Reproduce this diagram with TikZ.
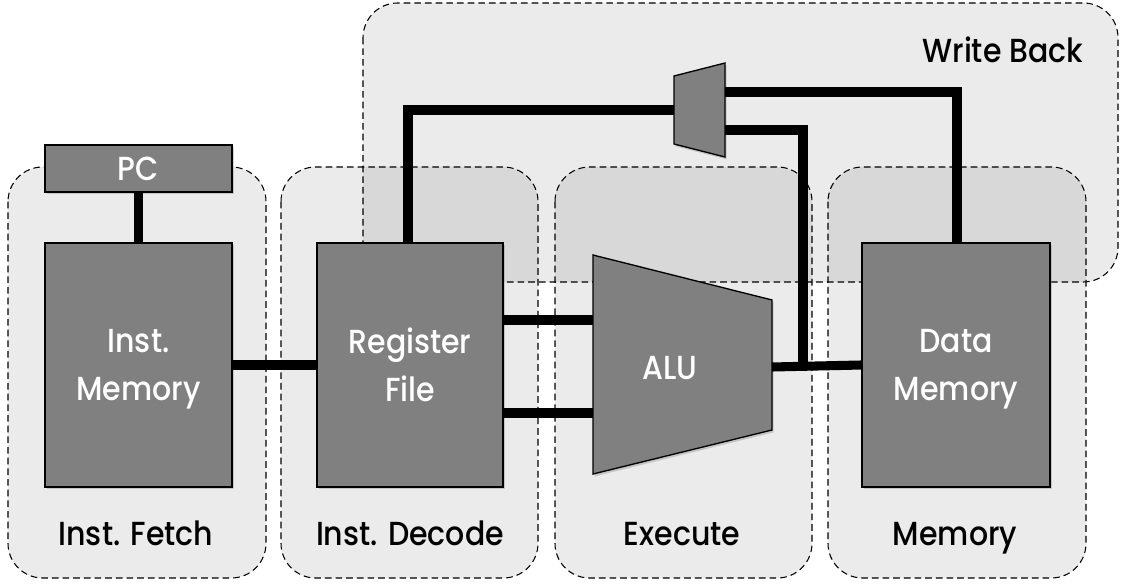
\documentclass[tikz,border=0pt]{standalone}
\usepackage{fontspec}
\setmainfont{Poppins}[UprightFont={* Medium}, FakeStretch=0.9]
\usetikzlibrary{shadows}
\definecolor{blockgray}{HTML}{808080}
\begin{document}
\begin{tikzpicture}[x=0.75pt,y=-0.75pt,
  stage/.style={draw=black, line width=0.8pt, dash pattern=on 5pt off 3pt, fill=black, fill opacity=0.08, draw opacity=1, rounded corners=26pt},
  stagelabel/.style={text=black, font=\fontsize{25}{36}\selectfont, anchor=base},
  block/.style={draw=black, line width=1pt, fill=blockgray, text=white, align=center,
     font=\fontsize{25}{36}\selectfont, inner sep=0pt, text depth=0pt,
     drop shadow={shadow xshift=1.2pt, shadow yshift=-1.8pt, opacity=0.35}},
  wire/.style={line width=6.8pt, black}
]
\useasboundingbox (0,0) rectangle (1128,584);
\fill[white] (0,0) rectangle (1128,584);

% stage regions
\path[stage] (363,3) rectangle (1118,282);
\path[stage] (8,167) rectangle (266,578);
\path[stage] (281,167) rectangle (538,578);
\path[stage] (555,167) rectangle (812,578);
\path[stage] (828,167) rectangle (1086,578);

\node[stagelabel, anchor=base east] (lwb) at (1088,63) {Write Back};
\node[stagelabel] (lif) at (136,545) {Inst. Fetch};
\node[stagelabel] (lid) at (410,545) {Inst. Decode};
\node[stagelabel] (lex) at (682,545) {Execute};
\node[stagelabel] (lmem) at (955,545) {Memory};

% blocks
\node[block, minimum width=140.25pt, minimum height=35.25pt] (pc) at (138.5,168.5) {PC};
\node[block, minimum width=140.25pt, minimum height=183pt] (imem) at (138.5,365) {Inst.\\Memory};
\node[block, minimum width=139.5pt, minimum height=183pt] (rf) at (410,365) {Register\\File};
\node[block, minimum width=141pt, minimum height=183pt] (dmem) at (956,365) {Data\\Memory};

% ALU and mux shapes
\path[draw=black, line width=1pt, fill=blockgray,
  drop shadow={shadow xshift=1.2pt, shadow yshift=-1.8pt, opacity=0.35}]
  (593,255) -- (772,300) -- (772,430) -- (593,474) -- cycle;
\node[text=white, font=\fontsize{25}{36}\selectfont] (alu) at (670,368) {ALU};
\path[draw=black, line width=1pt, fill=blockgray,
  drop shadow={shadow xshift=1.2pt, shadow yshift=-1.8pt, opacity=0.35}]
  (674,76) -- (725,63) -- (725,157) -- (674,144) -- cycle;
\node[inner sep=0pt, minimum size=0pt] (mux) at (699,110) {};

% ports
\coordinate (alu-in1) at (593,320);
\coordinate (alu-in2) at (593,413);
\coordinate (alu-out) at (772,367);
\coordinate (tap) at (803,367);
\coordinate (mux-out) at (674,110);
\coordinate (mux-in1) at (725,92);
\coordinate (mux-in2) at (725,130);
\coordinate (rf-top) at (408,243);
\coordinate (dm-top) at (957,243);

% wires
\draw[wire] (pc.south) -- (imem.north);
\draw[wire] (imem.east) -- (rf.west);
\draw[wire] (rf.east |- alu-in1) -- (alu-in1);
\draw[wire] (rf.east |- alu-in2) -- (alu-in2);
\draw[wire] (alu-out) -- (dmem.west);
\draw[wire] (tap) |- (mux-in2);
\draw[wire] (rf-top) |- (mux-out);
\draw[wire] (dm-top) |- (mux-in1);
\end{tikzpicture}
\end{document}
